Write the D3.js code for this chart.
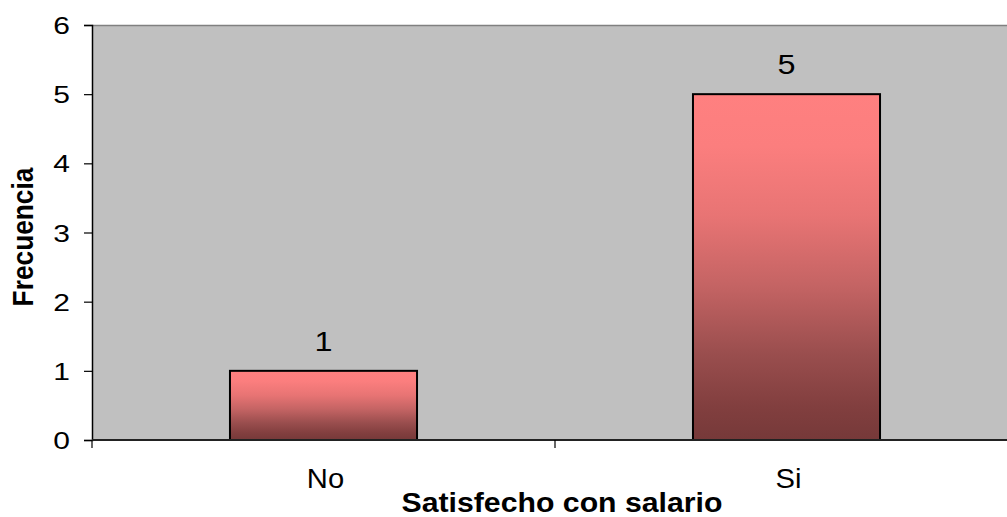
<!DOCTYPE html>
<html>
<head>
<meta charset="utf-8">
<script src="https://cdn.jsdelivr.net/npm/d3@7"></script>
<style>
  html, body { margin: 0; padding: 0; background: #fff; }
  svg { display: block; }
  text { font-family: "Liberation Sans", Arial, sans-serif; fill: #000; }
</style>
</head>
<body>
<svg id="chart" width="1007" height="517"></svg>
<script>
// Chart data
const categories = ["No", "Si"];
const values = [1, 5];
const yTicks = [0, 1, 2, 3, 4, 5, 6];
const xTitle = "Satisfecho con salario";
const yTitle = "Frecuencia";

const plot = { left: 92, top: 25, right: 1018, bottom: 440 };

const svg = d3.select("#chart");

const x = d3.scaleBand()
  .domain(categories)
  .range([plot.left, plot.right])
  .paddingInner(0.596)
  .paddingOuter(0.298);

const y = d3.scaleLinear()
  .domain([0, 6])
  .range([plot.bottom, plot.top]);

// Bar fill: pink fading to a dark maroon at the base
const defs = svg.append("defs");
const grad = defs.append("linearGradient")
  .attr("id", "barFill")
  .attr("x1", 0).attr("y1", 0).attr("x2", 0).attr("y2", 1);
[
  [0, "#ff8080"],
  [0.15, "#fb7e7e"],
  [0.35, "#e87474"],
  [0.55, "#c56464"],
  [0.75, "#9a4e4e"],
  [0.9, "#823f3f"],
  [1, "#763939"]
].forEach(([o, c]) => grad.append("stop").attr("offset", o).attr("stop-color", c));

// Plot area background
svg.append("rect")
  .attr("x", plot.left).attr("y", plot.top)
  .attr("width", plot.right - plot.left).attr("height", plot.bottom - plot.top)
  .attr("fill", "#c0c0c0");

svg.append("line")
  .attr("x1", plot.left).attr("x2", plot.right)
  .attr("y1", plot.top + 0.5).attr("y2", plot.top + 0.5)
  .attr("stroke", "#808080").attr("stroke-width", 1.5);

// Bars
svg.append("g").selectAll("rect")
  .data(values)
  .join("rect")
  .attr("x", (d, i) => x(categories[i]))
  .attr("y", d => y(d))
  .attr("width", x.bandwidth())
  .attr("height", d => y(0) - y(d))
  .attr("fill", "url(#barFill)")
  .attr("stroke", "#000")
  .attr("stroke-width", 2);

// Text drawn with a slight horizontal stretch
function wideText(sel, px, py, sx) {
  return sel.attr("transform", `translate(${px},${py}) scale(${sx},1)`);
}

// Value labels
svg.append("g").selectAll("text")
  .data(values)
  .join("text")
  .each(function (d, i) {
    wideText(d3.select(this), x(categories[i]) + x.bandwidth() / 2, y(d) - 20, 1.2);
  })
  .attr("text-anchor", "middle")
  .attr("font-size", 27)
  .text(d => d);

// Y axis
const yAxis = svg.append("g")
  .attr("transform", `translate(${plot.left},0)`)
  .call(d3.axisLeft(y).tickValues(yTicks).tickSize(8).tickFormat(d3.format("d")));
yAxis.select(".domain").attr("stroke", "#000").attr("stroke-width", 1.5);
yAxis.selectAll(".tick line").attr("stroke", "#000").attr("stroke-width", 1.2);
yAxis.selectAll(".tick text")
  .attr("x", null).attr("dy", null)
  .attr("transform", "translate(-22,8.6) scale(1.25,1)")
  .attr("font-size", 24)
  .attr("font-family", "Liberation Sans, Arial, sans-serif")
  .attr("fill", "#000");

// X axis: ticks sit at band boundaries
const bounds = [plot.left, ...categories.slice(1).map(c => x(c) - x.step() * x.paddingInner() / 2)];
const xg = svg.append("g");
xg.append("line")
  .attr("x1", plot.left).attr("x2", plot.right)
  .attr("y1", plot.bottom).attr("y2", plot.bottom)
  .attr("stroke", "#222").attr("stroke-width", 2);
xg.selectAll("line.tk")
  .data(bounds)
  .join("line")
  .attr("class", "tk")
  .attr("x1", d => d).attr("x2", d => d)
  .attr("y1", plot.bottom).attr("y2", plot.bottom + 8)
  .attr("stroke", "#000").attr("stroke-width", 1.2);
xg.selectAll("text")
  .data(categories)
  .join("text")
  .each(function (d) {
    wideText(d3.select(this), x(d) + x.bandwidth() / 2 + 2, 488, 1.08);
  })
  .attr("text-anchor", "middle")
  .attr("font-size", 27)
  .text(d => d);

// Axis titles
wideText(svg.append("text"), 562, 512, 1.12)
  .attr("text-anchor", "middle")
  .attr("font-size", 27)
  .attr("font-weight", "bold")
  .text(xTitle);

svg.append("text")
  .attr("transform", `translate(33,237) rotate(-90) scale(1,1.1)`)
  .attr("text-anchor", "middle")
  .attr("font-size", 26.3)
  .attr("font-weight", "bold")
  .text(yTitle);
</script>
</body>
</html>
